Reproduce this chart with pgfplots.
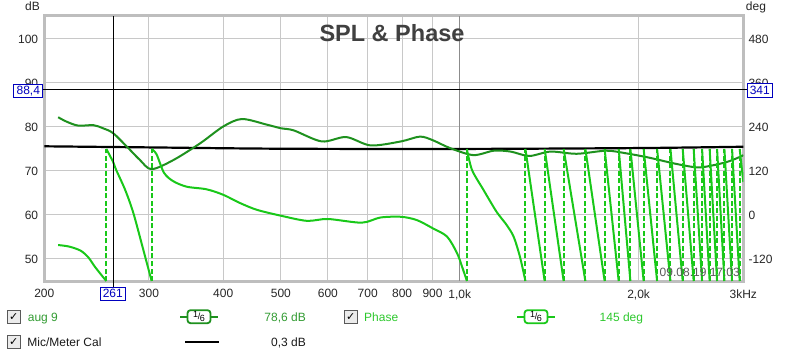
\documentclass[border=0pt]{standalone}
\usepackage{fontspec}
\setmainfont{Liberation Sans}
\newfontfamily\symfont{DejaVu Sans}
\usepackage{pgfplots}
\pgfplotsset{compat=1.18}
\definecolor{splc}{RGB}{30,145,30}
\definecolor{phc}{RGB}{25,200,25}
\definecolor{spltext}{RGB}{50,155,50}
\definecolor{phtext}{RGB}{45,200,45}
\definecolor{gridc}{RGB}{200,200,200}
\definecolor{gridk}{RGB}{140,140,140}
\definecolor{framec}{RGB}{190,190,190}
\definecolor{curblue}{RGB}{0,0,190}
\definecolor{titlec}{RGB}{64,64,64}
\newcommand{\tf}{\fontsize{12}{14}\selectfont}
\newcommand{\sixth}{{\fontsize{9}{9}\selectfont\raisebox{1.8pt}{1}\kern-0.3pt/\kern-0.3pt\raisebox{-1.8pt}{6}}}
\begin{document}
\begin{tikzpicture}
\begin{axis}[
  at={(0pt,0pt)}, anchor=south west,
  scale only axis, width=699pt, height=265pt,
  xmode=log, xmin=200, xmax=3000, ymin=45, ymax=105.2,
  xtick={200,300,400,500,600,700,800,900,2000,3000},
  xticklabels={200,300,400,500,600,700,800,900,{2,0k},3kHz},
  extra x ticks={1000}, extra x tick labels={1{,}0k},
  extra x tick style={major grid style={draw=gridk, line width=1pt}},
  minor xtick={},
  ytick={50,60,70,80,90,100},
  yticklabels={50,60,70,80,90,100},
  xmajorgrids=true, ymajorgrids=true,
  major grid style={draw=gridc, line width=1pt},
  major tick length=0pt,
  axis line style={draw=framec, line width=3pt},
  tick label style={font=\tf, text=black!85},
  xticklabel style={anchor=north, inner sep=0pt, yshift=-8.3pt},
  yticklabel style={anchor=east, inner sep=0pt, xshift=-6pt},
]
% Mic/Meter Cal
\addplot[black, line width=2.2pt, smooth] coordinates {
(200,75.6) (300,75.35) (500,75.05) (1000,75.0) (2000,75.2) (3000,75.5)};
% SPL aug 9
\addplot[splc, line width=2pt, smooth] coordinates {
(211,82.2) (218,81.2) (228,80.3) (242,80.4) (251,79.7) (261,78.6) (275.5,75.5)
(289.6,72.5) (303,70.4) (330,72.5) (366,76.3) (400,80.1) (430,81.8) (474,80.5)
(500,79.7) (526,79.2) (586,76.7) (644,77.7) (708,75.8) (796,76.7) (857,77.8)
(900,77.0) (963,75.2) (1054,73.6) (1141,74.6) (1218,74.4) (1309,73.4) (1421,74.4)
(1573,73.9) (1765,74.6) (1906,74.0) (2086,73.0) (2313,71.6) (2510,70.8) (2650,71.2)
(2824,72.1) (2962,73.2) (3000,73.6)};
\end{axis}
\begin{axis}[
  at={(0pt,0pt)}, anchor=south west,
  scale only axis, width=699pt, height=265pt,
  xmode=log, xmin=200, xmax=3000, ymin=-180, ymax=542.4,
  axis x line=none, axis y line*=right,
  axis line style={draw=none},
  ytick={-120,0,120,240,360,480},
  yticklabels={-120,0,120,240,360,480},
  major tick length=0pt,
  tick label style={font=\tf, text=black!85},
  yticklabel style={anchor=west, inner sep=0pt, xshift=5pt},
  unbounded coords=jump,
]
% phase wraps (dashed)
\addplot[phc, line width=2pt, dash pattern=on 5pt off 2.5pt] coordinates {
(254.3,-180) (254.3,180) (260,nan)
(303.1,-180) (303.1,180) (310,nan)
(1028,-180) (1028,180) (1030,nan)
(1289.6,-180) (1289.6,180) (1300,nan)
(1389.5,-180) (1389.5,180) (1400,nan)
(1495.6,-180) (1495.6,180) (1500,nan)
(1627,-180) (1627,180) (1630,nan)
(1753,-180) (1753,180) (1760,nan)
(1851,-180) (1851,180) (1860,nan)
(1937,-180) (1937,180) (1940,nan)
(2039,-180) (2039,180) (2040,nan)
(2148,-180) (2148,180) (2150,nan)
(2262,-180) (2262,180) (2270,nan)
(2372,-180) (2372,180) (2380,nan)
(2475,-180) (2475,180) (2480,nan)
(2557,-180) (2557,180) (2560,nan)
(2633,-180) (2633,180) (2640,nan)
(2710,-180) (2710,180) (2720,nan)
(2788,-180) (2788,180) (2790,nan)
(2872,-180) (2872,180) (2880,nan)
(2958,-180) (2958,180)};
% phase solid segments
\addplot[phc, line width=2pt, smooth] coordinates {
(211,-82) (220,-86) (230,-97) (237,-115) (243,-140) (249,-162) (254.3,-180)};
\addplot[phc, line width=2pt, smooth] coordinates {
(254.3,180) (261,145) (264,124) (273.6,68) (282.4,5) (293.6,-96) (303.1,-180)};
\addplot[phc, line width=2pt, smooth] coordinates {
(303.1,180) (309,165) (318,115) (329.6,92) (347.4,77) (375,70) (400,55) (427.6,32)
(455.8,14) (500,-2) (553,-16) (600,-11) (684,-21) (735,-7) (797,-5) (847,-14)
(900,-36) (952,-59) (989.5,-104) (1009,-141) (1028,-180)};
\addplot[phc, line width=2pt, smooth] coordinates {
(1028,180) (1048.5,123) (1096.6,68) (1147.6,14) (1170,-5) (1200,-28) (1232,-59)
(1262.7,-114) (1289.6,-180)};
\addplot[phc, line width=2pt] coordinates {
(1289.6,180) (1389.5,-180) (1390,nan)
(1389.5,180) (1495.6,-180) (1496,nan)
(1495.6,180) (1627,-180) (1628,nan)
(1627,180) (1753,-180) (1754,nan)
(1753,180) (1851,-180) (1852,nan)
(1851,180) (1937,-180) (1938,nan)
(1937,180) (2039,-180) (2040,nan)
(2039,180) (2148,-180) (2149,nan)
(2148,180) (2262,-180) (2263,nan)
(2262,180) (2372,-180) (2373,nan)
(2372,180) (2475,-180) (2476,nan)
(2475,180) (2557,-180) (2558,nan)
(2557,180) (2633,-180) (2634,nan)
(2633,180) (2710,-180) (2711,nan)
(2710,180) (2788,-180) (2789,nan)
(2788,180) (2872,-180) (2873,nan)
(2872,180) (2958,-180) (2959,nan)
(2958,180) (3000,90)};
\end{axis}
% title and unit labels
\node[anchor=base west, inner sep=0pt, text=titlec] at (275pt,239.3pt)
  {\fontsize{23.5}{26}\selectfont\bfseries SPL \& Phase};
\node[anchor=base west, inner sep=0pt, text=black!85] at (-19.3pt,270.3pt) {\tf dB};
\node[anchor=base west, inner sep=0pt, text=black!85] at (701.4pt,270.3pt) {\tf deg};
% timestamp
\node[anchor=base east, inner sep=0pt, text=black!65] at (695.7pt,4.3pt) {\tf 09.08.19 17:03};
% cursor lines
\draw[black, line width=1pt] (-1.6pt,191pt) -- (703pt,191pt);
\draw[black, line width=1pt] (68.7pt,265pt) -- (68.7pt,-6.3pt);
% cursor boxes
\node[draw=curblue, fill=white, text=curblue, line width=0.9pt, inner sep=0pt,
  minimum width=28.7pt, minimum height=13pt] at (-16pt,190.2pt) {\tf 88,4};
\node[draw=curblue, fill=white, text=curblue, line width=0.9pt, inner sep=0pt,
  minimum width=25pt, minimum height=13.5pt] at (715.5pt,190.7pt) {\tf 341};
\node[draw=curblue, fill=white, text=curblue, line width=0.9pt, inner sep=0pt,
  minimum width=25.7pt, minimum height=12.7pt] at (68.5pt,-12.7pt) {\tf 261};
% legend row 1
\node[draw=black!65, fill=black!8, line width=0.8pt, minimum size=12.5pt, inner sep=0pt]
  at (-30.6pt,-35.7pt) {\symfont\fontsize{11}{11}\selectfont ✓};
\node[anchor=base west, inner sep=0pt, text=spltext] at (-16.6pt,-40pt) {\tf aug 9};
\draw[splc, line width=2pt] (135.7pt,-35.7pt) -- (173.7pt,-35.7pt);
\node[draw=splc, line width=1.8pt, fill=white, rounded corners=3pt, minimum width=23pt,
  minimum height=13pt, inner sep=0pt] at (154.7pt,-35.7pt) {\sixth};
\node[anchor=base east, inner sep=0pt, text=spltext] at (261.7pt,-40pt) {\tf 78,6 dB};
\node[draw=black!65, fill=black!8, line width=0.8pt, minimum size=12.5pt, inner sep=0pt]
  at (306.5pt,-35.7pt) {\symfont\fontsize{11}{11}\selectfont ✓};
\node[anchor=base west, inner sep=0pt, text=phtext] at (319.7pt,-40pt) {\tf Phase};
\draw[phc, line width=2pt] (472.7pt,-35.7pt) -- (510.7pt,-35.7pt);
\node[draw=phc, line width=1.8pt, fill=white, rounded corners=3pt, minimum width=23pt,
  minimum height=13pt, inner sep=0pt] at (491.7pt,-35.7pt) {\sixth};
\node[anchor=base east, inner sep=0pt, text=phtext] at (599pt,-40pt) {\tf 145 deg};
% legend row 2
\node[draw=black!65, fill=black!8, line width=0.8pt, minimum size=12.5pt, inner sep=0pt]
  at (-30.6pt,-60.7pt) {\symfont\fontsize{11}{11}\selectfont ✓};
\node[anchor=base west, inner sep=0pt, text=black!90] at (-17pt,-65pt) {\tf Mic/Meter Cal};
\draw[black, line width=2.2pt] (140.7pt,-60.7pt) -- (174.7pt,-60.7pt);
\node[anchor=base east, inner sep=0pt, text=black!90] at (261.7pt,-65pt) {\tf 0,3 dB};
% page frame
\pgfresetboundingbox
\useasboundingbox (-44.3pt,-75pt) rectangle (755.7pt,281pt);
\end{tikzpicture}
\end{document}
